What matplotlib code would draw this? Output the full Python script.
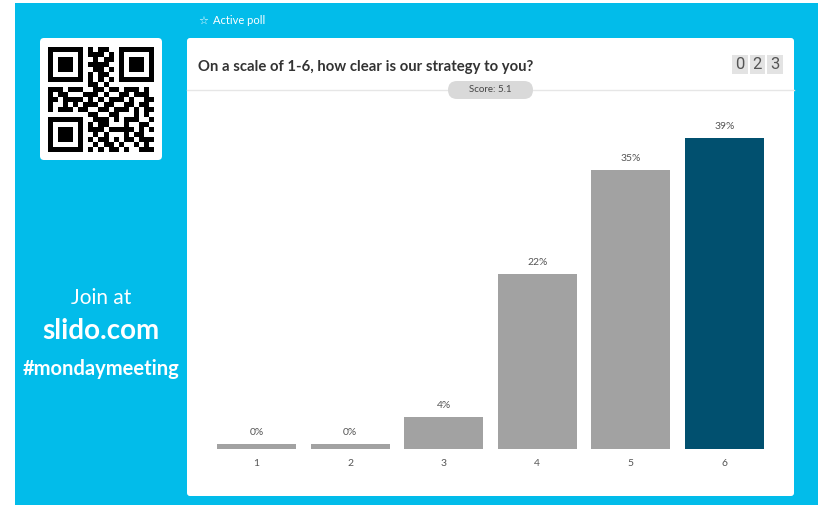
import numpy as np
import matplotlib
matplotlib.use("Agg")
import matplotlib.pyplot as plt
from matplotlib.patches import FancyBboxPatch, Rectangle

plt.rcParams['font.family'] = ['Lato', 'DejaVu Sans']

# ---- data ----
categories = ["1", "2", "3", "4", "5", "6"]
percent = [0, 0, 4, 22, 35, 39]
highlight = "6"
title = "On a scale of 1-6, how clear is our strategy to you?"
score_text = "Score: 5.1"
counter_digits = ["0", "2", "3"]

qr_rows = [
    "111111101011001111111",
    "100000101110101000001",
    "101110100101101011101",
    "101110101111001011101",
    "101110100110101011101",
    "100000101011001000001",
    "111111101010101111111",
    "000000001101000000000",
    "111011100110110111010",
    "101100011101001101110",
    "110111101010111010011",
    "100101011101100110110",
    "101110110011011101011",
    "000000001100110001010",
    "111111100111010111001",
    "100000101011000100110",
    "101110101110111110101",
    "101110100101000101100",
    "101110101011010110111",
    "100000100101101001010",
    "111111101010110100111",
]

BLUE = "#02BCEA"
GRAY_BAR = "#A2A2A2"
DARK_BAR = "#01506F"

W, H = 821, 505
fig = plt.figure(figsize=(W / 100, H / 100), dpi=100)
fig.patch.set_facecolor("white")

bg = fig.add_axes([0, 0, 1, 1])
bg.set_xlim(0, W)
bg.set_ylim(H, 0)
bg.axis("off")

# blue background
bg.add_patch(Rectangle((15, 3), 803, 502, color=BLUE, lw=0, zorder=0))
# white panel
bg.add_patch(FancyBboxPatch((187, 38), 607, 458, boxstyle="round,pad=0,rounding_size=3",
                            fc="white", ec="none", zorder=1))
# QR box
bg.add_patch(FancyBboxPatch((40, 38), 122, 122, boxstyle="round,pad=0,rounding_size=4",
                            fc="white", ec="none", zorder=1))
qr = np.array([[int(c) for c in r] for r in qr_rows])
bg.imshow(qr, cmap="gray_r", vmin=0, vmax=1, interpolation="nearest",
          extent=(48.3, 153.3, 151.7, 46.7), origin="upper", aspect="auto", zorder=2)

# left texts
bg.text(101, 298, "Join at", color="white", fontsize=15, ha="center", va="center", zorder=3)
bg.text(101, 331, "slido.com", color="white", fontsize=20, fontweight="bold",
        ha="center", va="center", zorder=3)
bg.text(101, 369, "#mondaymeeting", color="white", fontsize=14.5, fontweight="bold",
        ha="center", va="center", zorder=3)

# active poll
bg.text(198, 21, "\u2606", color="white", fontsize=8, ha="left", va="center",
        family=["DejaVu Sans"], zorder=3)
bg.text(213, 21, "Active poll", color="white", fontsize=8, ha="left", va="center", zorder=3)

# title
bg.text(198, 67, title, color="#333333", fontsize=10.7, fontweight="bold",
        ha="left", va="center", zorder=3)

# counter
for i, d in enumerate(counter_digits):
    x0 = 732 + i * 17.5
    bg.add_patch(Rectangle((x0, 55), 15.5, 19, color="#E3E3E3", lw=0, zorder=2))
    bg.text(x0 + 7.75, 64.5, d, color="#555555", fontsize=12, ha="center", va="center",
            family=["Roboto", "DejaVu Sans"], zorder=3)

# divider and score pill
bg.plot([187, 794], [90, 90], color="#E6E6E6", lw=1, zorder=2)
bg.add_patch(FancyBboxPatch((448, 81), 85, 18, boxstyle="round,pad=0,rounding_size=9",
                            fc="#D9D9D9", ec="none", zorder=3))
bg.text(490.5, 90, score_text, color="#444444", fontsize=7, ha="center", va="center", zorder=4)

# ---- bar chart ----
spacing = 93.6
left_px = 256.5 - 0.5 * spacing
base_px = 449
ymax = 45
px_per_unit = 7.97
ax = fig.add_axes([left_px / W, (H - base_px) / H, 6 * spacing / W, ymax * px_per_unit / H])
ax.patch.set_alpha(0)
ax.set_xlim(0.5, 6.5)
ax.set_ylim(0, ymax)
x = np.arange(1, len(categories) + 1)
display_h = np.maximum(np.array(percent, dtype=float), 0.6)
colors = [DARK_BAR if c == highlight else GRAY_BAR for c in categories]
ax.bar(x, display_h, width=0.845, color=colors, zorder=2)
for xi, h, p in zip(x, display_h, percent):
    ax.annotate(f"{p}%", (xi, h), xytext=(0, 5), textcoords="offset points",
                ha="center", va="bottom", fontsize=7.5, color="#555555")
for s in ax.spines.values():
    s.set_visible(False)
ax.set_yticks([])
ax.set_xticks(x)
ax.set_xticklabels(categories, fontsize=7.5, color="#555555")
ax.tick_params(axis="x", length=0, pad=7)

fig.savefig("out.png", dpi=100, facecolor="white")
